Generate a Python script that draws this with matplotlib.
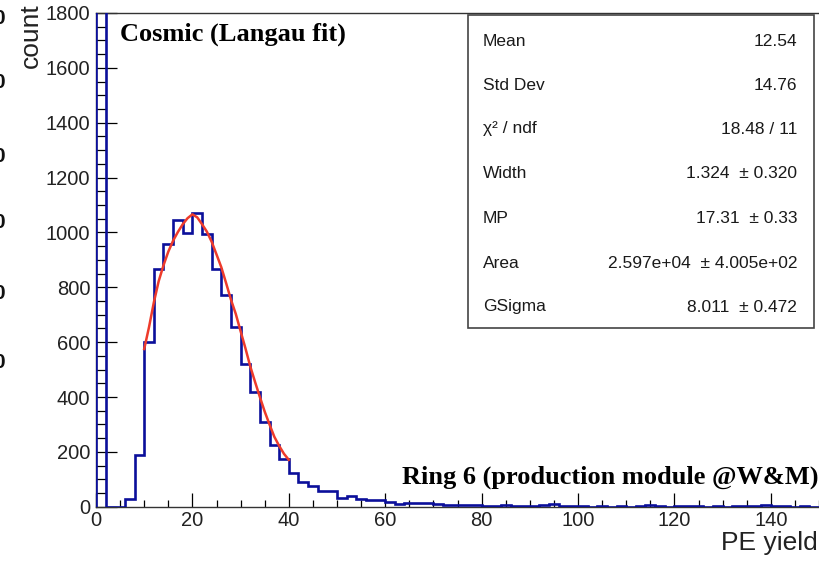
import matplotlib
matplotlib.use("Agg")
import matplotlib.pyplot as plt
from matplotlib.patches import Rectangle
from matplotlib.ticker import MultipleLocator
import numpy as np

plt.rcParams['font.family'] = ['Liberation Sans', 'DejaVu Sans']

# histogram: 2 PE wide bins from 0 to 150
bin_edges = np.arange(0, 152, 2)
counts = [
    3400, 0, 0, 27, 189, 599, 867, 958, 1047, 998,        # 0 - 20
    1071, 996, 865, 773, 655, 521, 418, 308, 225, 173,    # 20 - 40
    122, 92, 76, 58, 58, 32, 38, 29, 24, 24,              # 40 - 60
    17, 10, 14, 14, 14, 9, 6, 5, 8, 5,                    # 60 - 80
    4, 3, 8, 3, 2, 4, 7, 11, 2, 1,                        # 80 - 100
    1, 0, 1, 0, 1, 0, 1, 5, 1, 0,                         # 100 - 120
    1, 2, 1, 0, 1, 0, 1, 1, 1, 6,                         # 120 - 140
    2, 1, 0, 1, 0,                                        # 140 - 150
]

# Langau fit curve
fit_x = [10, 11, 12, 13, 14, 15, 16, 17, 18, 19, 20, 21, 22, 23, 24, 25,
         26, 27, 28, 29, 30, 31, 32, 33, 34, 35, 36, 37, 38, 39, 40]
fit_y = [575, 655, 745, 822, 880, 930, 970, 1002, 1030, 1052, 1066, 1055,
         1030, 1003, 966, 920, 873, 815, 755, 703, 640, 578, 512, 455, 400,
         347, 300, 255, 222, 193, 171]

stat_names = ["Mean", "Std Dev", "\u03c7\u00b2 / ndf", "Width", "MP", "Area", "GSigma"]
stat_values = ["12.54", "14.76", "18.48 / 11", "1.324  \u00b1 0.320",
               "17.31  \u00b1 0.33", "2.597e+04  \u00b1 4.005e+02", "8.011  \u00b1 0.472"]

W, H = 819, 561


def fx(px):
    return px / W


def fy(py):
    return 1 - py / H


fig = plt.figure(figsize=(W / 100, H / 100), dpi=100)
ax = fig.add_axes([fx(96), fy(506.75), fx(819 - 96), (506.75 - 13) / H])

ax.stairs(counts, bin_edges, color='#0b0f9a', linewidth=1.9, zorder=3)
ax.plot(fit_x, fit_y, color='#ee3b2b', linewidth=1.8, zorder=4)

ax.set_xlim(0, 150)
ax.set_ylim(0, 1800)
ax.xaxis.set_major_locator(MultipleLocator(20))
ax.xaxis.set_minor_locator(MultipleLocator(5))
ax.yaxis.set_major_locator(MultipleLocator(200))
ax.yaxis.set_minor_locator(MultipleLocator(50))
ax.tick_params(axis='x', which='major', direction='in', length=10, width=0.9, labelsize=14.5, pad=3)
ax.tick_params(axis='x', which='minor', direction='in', length=5, width=0.9)
ax.tick_params(axis='y', which='major', direction='in', length=15, width=0.9, labelsize=14.5, pad=4)
ax.tick_params(axis='y', which='minor', direction='in', length=7.5, width=0.9)
for lab in ax.get_xticklabels() + ax.get_yticklabels():
    lab.set_color('#222222')
ax.spines['right'].set_visible(False)
for s in ['left', 'bottom', 'top']:
    ax.spines[s].set_linewidth(1.0)
    ax.spines[s].set_color('#333333')

# axis titles
fig.text(fx(31), fy(3), "count", rotation=90, ha='center', va='top', fontsize=19, color='#222222')
fig.text(fx(818), fy(550), "PE yield", ha='right', va='baseline', fontsize=19, color='#222222')

# annotations
fig.text(fx(120), fy(41), "Cosmic (Langau fit)", fontsize=19, fontweight='bold',
         family=['Liberation Serif', 'DejaVu Serif'], va='baseline')
fig.text(fx(818), fy(484), "Ring 6 (production module @W&M)", fontsize=19, fontweight='bold',
         family=['Liberation Serif', 'DejaVu Serif'], ha='right', va='baseline')

# stats box
box = Rectangle((fx(468), fy(328)), fx(814 - 468), (328 - 15) / H, transform=fig.transFigure,
                facecolor='white', edgecolor='#444444', linewidth=1.2, zorder=5)
fig.patches.append(box)
row_y = [41, 85, 129, 173, 218, 263, 307]
for name, val, yy in zip(stat_names, stat_values, row_y):
    fig.text(fx(483), fy(yy), name, ha='left', va='center', fontsize=12.5, color='#1a1a1a', zorder=6)
    fig.text(fx(797), fy(yy), val, ha='right', va='center', fontsize=12.5, color='#1a1a1a', zorder=6)

# clipped glyphs at the left edge of the original figure
for yy in [18, 82, 157, 222, 293, 362]:
    fig.text(fx(-1), fy(yy), "0", ha='center', va='center', fontsize=15, fontweight='bold', color='#111111')

fig.savefig("out.png", dpi=100)
